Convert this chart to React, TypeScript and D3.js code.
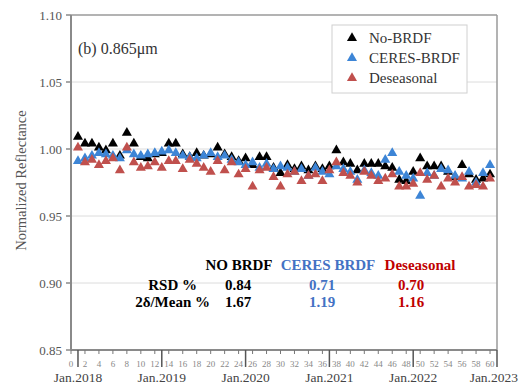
import React from 'react';
import * as d3 from 'd3';

const noBrdf = [
  1.009, 1.004, 1.004, 1.001, 0.999, 1.004, 0.995, 1.012, 1.004, 0.994,
  0.993, 0.996, 0.997, 1.004, 1.004, 0.996, 0.994, 0.997, 0.995, 0.996,
  1.001, 0.996, 0.994, 0.991, 0.993, 0.988, 0.994, 0.994, 0.986, 0.982,
  0.988, 0.985, 0.987, 0.984, 0.987, 0.985, 0.987, 0.999, 0.990, 0.989,
  0.984, 0.989, 0.989, 0.989, 0.987, 0.986, 0.977, 0.976, 0.983, 0.993,
  0.987, 0.987, 0.987, 0.983, 0.979, 0.988, 0.981, 0.977, 0.978, 0.981,
];
const ceresBrdf = [
  0.991, 0.993, 0.995, 0.997, 0.996, 0.995, 0.993, 0.999, 0.996, 0.995,
  0.996, 0.997, 0.998, 0.999, 0.997, 0.995, 0.994, 0.993, 0.995, 0.997,
  0.994, 0.995, 0.992, 0.990, 0.988, 0.990, 0.986, 0.989, 0.985, 0.987,
  0.986, 0.983, 0.985, 0.980, 0.986, 0.983, 0.981, 0.987, 0.985, 0.983,
  0.977, 0.984, 0.982, 0.980, 0.992, 0.997, 0.983, 0.980, 0.978, 0.965,
  0.982, 0.980, 0.985, 0.984, 0.980, 0.978, 0.983, 0.975, 0.982, 0.988,
];
const deseasonal = [
  1.001, 0.990, 0.992, 0.988, 0.991, 0.993, 0.984, 1.001, 0.990, 0.986,
  0.987, 0.990, 0.986, 0.991, 0.991, 0.985, 0.992, 0.989, 0.986, 0.983,
  0.991, 0.984, 0.990, 0.981, 0.985, 0.972, 0.984, 0.986, 0.979, 0.972,
  0.981, 0.983, 0.976, 0.980, 0.981, 0.976, 0.984, 0.990, 0.982, 0.980,
  0.975, 0.983, 0.980, 0.976, 0.978, 0.981, 0.972, 0.972, 0.974, 0.982,
  0.977, 0.980, 0.972, 0.978, 0.975, 0.979, 0.972, 0.973, 0.972, 0.978,
];

const yTicks = [0.85, 0.9, 0.95, 1.0, 1.05, 1.1];
const gridTicks = [0.9, 0.95, 1.0, 1.05];
const yearLabels = ['Jan.2018', 'Jan.2019', 'Jan.2020', 'Jan.2021', 'Jan.2022', 'Jan.2023'];
const seqTicks = d3.range(0, 61, 2);

const seriesNames = ['No-BRDF', 'CERES-BRDF', 'Deseasonal'];
const statHeaders = ['NO BRDF', 'CERES BRDF', 'Deseasonal'];
const rsdValues = ['0.84', '0.71', '0.70'];
const twoSigmaValues = ['1.67', '1.19', '1.16'];

const markerColors = ['#000000', '#3d85d6', '#c0504d'];
const statColors = ['#000000', '#4472c4', '#c00000'];

const W = 519;
const H = 388;
const left = 71;
const right = 497;
const top = 15;
const bottom = 350;

const FONT = '"Liberation Serif", "Times New Roman", serif';

export default function App() {
  const x = d3.scaleLinear().domain([0, 61]).range([left, right]);
  const y = d3.scaleLinear().domain([0.85, 1.1]).range([bottom, top]);
  const tri = d3.symbol().type(d3.symbolTriangle).size(44)() as string;

  const series = [noBrdf, ceresBrdf, deseasonal];

  const headerX = [239, 328, 420];
  const valueX = [238, 322, 411];

  return (
    <svg
      width={W}
      height={H}
      style={{ position: 'absolute', left: 0, top: 0, background: '#fff' }}
      fontFamily={FONT}
    >
      {/* gridlines */}
      {gridTicks.map((t) => (
        <line key={'g' + t} x1={left} x2={right} y1={y(t)} y2={y(t)} stroke="#dcdcdc" strokeWidth={1} />
      ))}

      {/* frame */}
      <line x1={left} x2={right} y1={top} y2={top} stroke="#9a9a9a" strokeWidth={1.5} />
      <line x1={right} x2={right} y1={top} y2={bottom} stroke="#9a9a9a" strokeWidth={1.5} />
      <line x1={left} x2={left} y1={top} y2={bottom} stroke="#8a8a8a" strokeWidth={2} />
      <line x1={left} x2={right} y1={bottom} y2={bottom} stroke="#8a8a8a" strokeWidth={2} />

      {/* y ticks */}
      {yTicks.map((t) => (
        <g key={'y' + t}>
          <line x1={left - 5} x2={left} y1={y(t)} y2={y(t)} stroke="#8a8a8a" strokeWidth={1.5} />
          <text x={left - 9} y={y(t)} dy="0.35em" textAnchor="end" fontSize={13} fill="#555">
            {t.toFixed(2)}
          </text>
        </g>
      ))}

      {/* y label */}
      <text
        transform={`translate(21,${(top + bottom) / 2 - 2}) rotate(-90)`}
        textAnchor="middle"
        dy="0.35em"
        fontSize={14.5}
        fill="#555"
      >
        Normalized Reflectance
      </text>

      {/* x minor ticks and sequence labels */}
      {seqTicks.map((t) => (
        <g key={'s' + t}>
          <line x1={x(t)} x2={x(t)} y1={bottom} y2={bottom + 4} stroke="#777" strokeWidth={1} />
          <text x={x(t)} y={bottom + 17} textAnchor="middle" fontSize={9} fill="#888">
            {t}
          </text>
        </g>
      ))}

      {/* year ticks and labels */}
      {yearLabels.map((lab, k) => {
        const xi = x(1 + 12 * k);
        const last = k === yearLabels.length - 1;
        return (
          <g key={lab}>
            <line x1={xi} x2={xi} y1={bottom} y2={bottom + 17} stroke="#555" strokeWidth={1.5} />
            <text
              x={last ? W - 1 : xi}
              y={bottom + 32}
              textAnchor={last ? 'end' : 'middle'}
              fontSize={13.5}
              fill="#444"
            >
              {lab}
            </text>
          </g>
        );
      })}

      {/* data */}
      {series.map((vals, si) =>
        vals.map((v, i) => (
          <path
            key={si + '-' + i}
            d={tri}
            transform={`translate(${x(i + 1)},${y(v)})`}
            fill={markerColors[si]}
          />
        ))
      )}

      {/* title */}
      <text x={78} y={54} fontSize={16} fill="#333">
        (b) 0.865μm
      </text>

      {/* legend */}
      <rect x={332} y={25} width={135} height={68} fill="#fff" stroke="#d0d0d0" strokeWidth={1} />
      {seriesNames.map((name, i) => (
        <g key={name} transform={`translate(0,${38 + i * 20})`}>
          <path d={tri} transform="translate(352,0)" fill={markerColors[i]} />
          <text x={369} y={0} dy="0.35em" fontSize={15} fill="#333">
            {name}
          </text>
        </g>
      ))}

      {/* stats table */}
      {statHeaders.map((h, i) => (
        <text key={h} x={headerX[i]} y={270} textAnchor="middle" fontSize={15} fontWeight="bold" fill={statColors[i]}>
          {h}
        </text>
      ))}
      <text x={197} y={290} textAnchor="end" fontSize={15} fontWeight="bold" fill="#000">
        RSD %
      </text>
      <text x={210} y={307} textAnchor="end" fontSize={15} fontWeight="bold" fill="#000">
        2δ/Mean %
      </text>
      {rsdValues.map((v, i) => (
        <text key={'r' + i} x={valueX[i]} y={290} textAnchor="middle" fontSize={15} fontWeight="bold" fill={statColors[i]}>
          {v}
        </text>
      ))}
      {twoSigmaValues.map((v, i) => (
        <text key={'t' + i} x={valueX[i]} y={307} textAnchor="middle" fontSize={15} fontWeight="bold" fill={statColors[i]}>
          {v}
        </text>
      ))}
    </svg>
  );
}
